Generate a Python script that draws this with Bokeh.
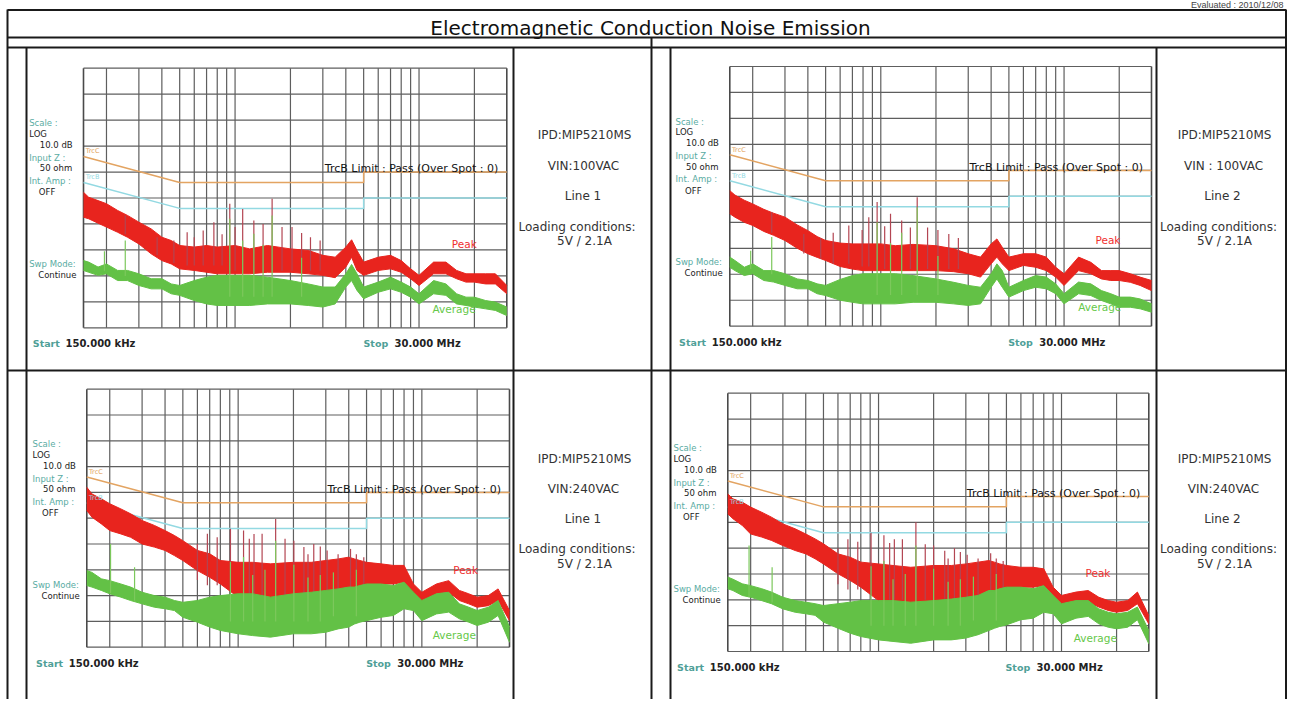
import math
from bokeh.plotting import figure
from bokeh.models import Range1d, LogScale
from bokeh.core.properties import value
from bokeh.embed import file_html
from bokeh.resources import INLINE

# ---------------- data ----------------
FREQ_KHZ = [150, 160, 180, 200, 230, 260, 300, 350, 400, 450, 500, 600, 700, 800, 1000, 1200, 1500,
            2000, 2500, 3000, 3500, 4000, 4300, 4600, 5000, 6000, 7000, 8000, 9000, 10000, 12000,
            14000, 16000, 18000, 20000, 23000, 26000, 30000]
GRID_KHZ = [200, 300, 400, 500, 600, 700, 800, 900, 1000, 2000, 3000, 4000, 5000, 6000, 7000,
            8000, 9000, 10000, 20000]
DB_LEVELS = [0, 10, 20, 30, 40, 50, 60, 70, 80, 90, 100]
LIM_KHZ = [150, 500, 5000, 5000, 30000]
QP_LIMIT_DB = [66, 56, 56, 60, 60]
AV_LIMIT_DB = [56, 46, 46, 50, 50]

# chart 1 : 100VAC Line 1
P1_HI = [52.2, 50.3, 49.0, 47.8, 45.2, 43.3, 40.7, 38.1, 34.9, 33.6, 31.7, 31.1, 31.7, 31.1, 31.7, 30.4, 31.7, 30.4, 29.8, 27.9,
         27.2, 31.1, 33.9, 29.8, 25.3, 27.2, 27.9, 25.9, 22.7, 20.2, 25.3, 25.3, 22.1, 20.8, 20.8, 20.8, 20.8, 16.3]
P1_LO = [42.6, 42.0, 40.3, 38.8, 36.8, 34.9, 32.3, 28.5, 25.9, 24.6, 22.7, 22.1, 21.4, 20.8, 20.8, 20.8, 21.4, 21.4, 20.8, 20.2,
         19.3, 23.4, 27.2, 22.1, 20.2, 22.1, 22.7, 21.4, 18.9, 16.3, 20.8, 20.8, 18.9, 17.6, 17.6, 16.9, 16.9, 13.1]
A1_HI = [25.9, 25.3, 23.4, 24.6, 22.1, 22.1, 20.8, 18.9, 18.9, 16.9, 16.3, 18.2, 19.5, 20.2, 20.2, 20.2, 19.5, 18.2, 16.9, 15.7,
         15.7, 20.8, 24.4, 20.8, 15.7, 17.6, 19.5, 17.6, 15.7, 13.1, 18.2, 16.9, 13.1, 11.8, 11.8, 10.5, 9.9, 8.0]
A1_LO = [22.1, 21.4, 20.2, 20.8, 18.2, 18.2, 16.3, 15.0, 15.0, 13.1, 12.5, 10.5, 9.2, 8.6, 8.6, 8.6, 9.2, 9.2, 8.6, 8.0,
         9.2, 15.7, 18.2, 14.4, 11.2, 13.7, 15.0, 13.7, 11.8, 9.2, 13.1, 12.5, 9.2, 8.6, 8.0, 7.3, 6.7, 4.7]
SP1_KHZ = [253, 377, 465, 549, 600, 671, 767, 850, 936, 1000, 1100, 1265, 1420, 1590, 1800, 2040, 2300, 2570, 2900]
SP1_TOP = [43.3, 34.9, 33.6, 36.8, 34.9, 37.5, 40.7, 36.0, 47.8, 38.8, 45.8, 41.3, 40.0, 49.7, 38.8, 38.8, 36.5, 34.9, 33.6]
SP1_BASE = [36, 28, 25, 24, 24, 24, 24, 24, 22, 22, 22, 22, 22, 22, 22, 22, 22, 22, 22]
SA1_KHZ = [195, 253, 936, 1100, 1265, 1420, 1590, 2300]
SA1_TOP = [29.5, 33.6, 42.0, 33.6, 36.2, 32.0, 43.3, 27.0]
SA1_BASE = [22, 20, 12, 12, 12, 12, 12, 12]

# chart 2 : 100VAC Line 2
P2_HI = [52.2, 50.5, 48.5, 47.1, 45.0, 43.5, 42.0, 39.0, 36.8, 34.5, 33.0, 32.0, 31.7, 31.7, 31.7, 31.0, 31.5, 31.0, 29.8, 27.9,
         26.6, 31.7, 33.6, 30.4, 26.6, 27.9, 27.9, 26.6, 22.7, 20.2, 26.6, 24.6, 21.4, 21.4, 21.4, 20.2, 18.9, 17.6]
P2_LO = [43.3, 42.0, 40.0, 38.8, 36.5, 35.0, 33.0, 30.0, 27.9, 26.5, 25.3, 23.0, 22.0, 21.4, 21.4, 21.4, 21.4, 21.4, 21.0, 20.2,
         18.9, 24.0, 26.6, 24.0, 21.4, 23.4, 22.7, 21.4, 18.9, 15.7, 21.4, 20.2, 18.2, 17.6, 17.6, 16.9, 15.7, 13.7]
A2_HI = [26.6, 25.3, 22.7, 24.0, 21.4, 21.4, 20.2, 18.2, 17.6, 16.3, 15.7, 18.0, 19.5, 20.2, 20.2, 20.2, 19.5, 18.2, 16.9, 15.7,
         15.0, 20.2, 24.0, 21.4, 15.0, 17.6, 19.5, 18.9, 16.3, 12.5, 17.0, 16.3, 13.7, 12.5, 11.2, 11.2, 10.5, 8.6]
A2_LO = [22.7, 21.4, 19.5, 20.2, 17.6, 17.0, 15.7, 14.4, 14.4, 12.5, 11.8, 10.0, 9.2, 8.6, 8.6, 8.6, 9.2, 9.2, 8.6, 8.0,
         8.6, 15.0, 18.2, 15.0, 11.2, 13.7, 15.0, 14.4, 12.5, 8.6, 12.5, 11.8, 9.9, 8.6, 7.3, 7.3, 6.7, 5.4]
SP2_KHZ = [254, 380, 470, 550, 669, 791, 860, 955, 1050, 1130, 1300, 1450, 1580, 1800, 2050, 2350, 2650]
SP2_TOP = [44.0, 35.5, 34.0, 36.0, 38.8, 37.0, 42.0, 47.8, 38.5, 43.3, 40.7, 38.0, 49.7, 38.0, 37.0, 35.5, 34.0]
SP2_BASE = [36, 28, 26, 24, 24, 23, 23, 22, 22, 22, 22, 22, 22, 22, 22, 22, 22]
SA2_KHZ = [195, 254, 955, 1130, 1300, 1580, 2050]
SA2_TOP = [29.1, 34.3, 40.0, 32.0, 36.0, 45.8, 27.0]
SA2_BASE = [22, 20, 12, 12, 12, 12, 12]

# chart 3 : 240VAC Line 1
P3_HI = [62.0, 59.4, 57.5, 55.6, 53.6, 51.7, 49.1, 47.2, 45.2, 43.3, 41.3, 37.5, 36.2, 33.6, 32.9, 32.9, 32.3, 32.9, 32.9, 33.6,
         34.2, 34.9, 34.2, 33.6, 32.9, 32.3, 31.7, 31.7, 24.5, 21.3, 24.5, 25.8, 22.0, 20.7, 19.4, 20.0, 22.6, 14.2]
P3_LO = [53.0, 50.4, 47.8, 45.2, 43.9, 42.6, 40.0, 38.8, 37.5, 35.5, 33.6, 29.7, 27.1, 24.5, 19.4, 18.1, 16.8, 18.1, 18.7, 19.4,
         20.7, 22.0, 23.3, 23.9, 24.5, 24.5, 24.5, 25.2, 19.4, 17.4, 20.7, 21.3, 18.1, 16.8, 15.5, 16.1, 18.1, 10.3]
A3_HI = [29.7, 29.0, 26.5, 25.8, 24.5, 23.3, 21.3, 20.0, 19.4, 18.1, 17.4, 18.1, 19.4, 20.0, 20.7, 20.7, 19.4, 20.7, 21.3, 22.0,
         22.6, 23.3, 23.3, 23.9, 24.5, 24.5, 23.9, 25.2, 21.3, 18.1, 20.7, 21.3, 16.8, 15.5, 14.2, 15.5, 18.1, 7.8]
A3_LO = [23.9, 23.3, 22.0, 20.7, 19.4, 18.1, 16.8, 15.5, 14.9, 14.2, 11.6, 9.7, 7.8, 6.5, 5.2, 4.5, 3.9, 5.2, 5.2, 5.8,
         7.1, 7.8, 9.0, 9.7, 10.3, 11.6, 12.3, 14.9, 14.2, 10.3, 12.9, 13.6, 11.0, 9.7, 8.4, 9.7, 12.3, 1.9]
SP3_KHZ = [600, 680, 769, 908, 1070, 1150, 1220, 1350, 1600, 1800, 2010, 2280, 2400, 2580, 2800, 3050, 3500, 4090, 4400, 4830]
SP3_TOP = [40.0, 44.0, 42.6, 45.9, 45.2, 42.0, 43.9, 44.0, 49.7, 42.0, 41.3, 38.8, 36.0, 40.0, 39.0, 37.5, 36.0, 38.1, 36.0, 34.9]
SP3_BASE = [26, 24, 24, 22, 20, 20, 20, 20, 20, 20, 20, 20, 20, 20, 20, 20, 20, 22, 24, 24]
SA3_KHZ = [202, 273, 908, 1070, 1200, 1400, 1600, 2010, 2400, 2800, 3300, 4400]
SA3_TOP = [40.0, 31.0, 33.0, 35.0, 28.0, 30.0, 41.3, 32.0, 27.0, 28.0, 29.0, 30.0]
SA3_BASE = [21, 18, 10, 10, 10, 10, 10, 10, 10, 10, 12, 12]

# chart 4 : 240VAC Line 2
P4_HI = [61.0, 59.1, 57.8, 55.9, 53.9, 52.0, 49.4, 47.5, 45.5, 43.6, 41.7, 37.8, 36.5, 34.6, 33.9, 33.3, 32.6, 33.3, 33.3, 33.9,
         34.6, 35.2, 34.6, 33.9, 33.3, 32.6, 32.6, 32.0, 24.9, 21.7, 23.0, 23.6, 21.0, 19.7, 19.1, 19.7, 23.0, 13.9]
P4_LO = [53.3, 51.4, 48.8, 45.5, 44.3, 43.0, 41.0, 39.1, 37.8, 35.9, 33.9, 30.1, 27.5, 24.9, 19.7, 18.5, 17.2, 18.5, 19.1, 19.7,
         21.0, 22.3, 23.6, 24.3, 24.9, 24.9, 24.9, 25.5, 19.7, 17.2, 18.5, 19.1, 17.2, 15.9, 15.2, 15.9, 18.5, 10.7]
A4_HI = [28.8, 28.0, 26.2, 25.5, 24.3, 23.0, 21.0, 19.7, 19.1, 18.5, 17.8, 18.5, 19.1, 19.7, 19.7, 19.7, 19.1, 19.7, 20.3, 21.0,
         21.7, 23.6, 23.6, 24.3, 24.9, 24.9, 24.3, 25.5, 21.7, 18.5, 19.7, 19.7, 16.5, 15.2, 14.6, 15.2, 17.2, 8.1]
A4_LO = [24.3, 23.6, 21.7, 21.0, 19.7, 18.5, 16.5, 15.2, 14.6, 14.0, 11.4, 9.0, 7.1, 5.8, 4.5, 3.9, 3.2, 4.5, 4.5, 5.2,
         6.5, 8.1, 9.0, 9.7, 10.3, 12.3, 12.9, 15.2, 14.6, 10.7, 12.9, 13.6, 10.7, 9.4, 8.8, 9.4, 12.3, 3.0]
SP4_KHZ = [600, 680, 770, 910, 1070, 1150, 1220, 1350, 1600, 1800, 2000, 2300, 2400, 2600, 2800, 3050, 3500, 4100, 4400, 4800]
SP4_TOP = [40.0, 43.5, 42.5, 46.0, 45.0, 42.0, 43.5, 43.5, 50.0, 41.5, 41.0, 39.0, 36.0, 40.0, 38.5, 37.5, 36.0, 38.0, 36.0, 35.0]
SP4_BASE = [26, 24, 24, 22, 20, 20, 20, 20, 20, 20, 20, 20, 20, 20, 20, 20, 20, 22, 24, 24]
SA4_KHZ = [196, 262, 910, 1070, 1200, 1400, 1600, 2000, 2400, 2800, 3300, 4400]
SA4_TOP = [41.0, 32.6, 33.0, 35.0, 28.0, 30.0, 41.0, 32.0, 27.0, 28.0, 29.0, 30.0]
SA4_BASE = [21, 19, 10, 10, 10, 10, 10, 10, 10, 10, 12, 12]

TITLE = "Electromagnetic Conduction Noise Emission"
EVALUATED = "Evaluated : 2010/12/08"
PANEL_TL = ["IPD:MIP5210MS", "VIN:100VAC", "Line 1", "Loading conditions:", "5V / 2.1A"]
PANEL_TR = ["IPD:MIP5210MS", "VIN : 100VAC", "Line 2", "Loading conditions:", "5V / 2.1A"]
PANEL_BL = ["IPD:MIP5210MS", "VIN:240VAC", "Line 1", "Loading conditions:", "5V / 2.1A"]
PANEL_BR = ["IPD:MIP5210MS", "VIN:240VAC", "Line 2", "Loading conditions:", "5V / 2.1A"]
TEAL_LABELS = ["Scale :", "Input Z :", "Int. Amp :", "Swp Mode:"]
BLACK_LABELS = ["LOG", "10.0 dB", "50 ohm", "OFF", "Continue"]
LIMIT_TEXT = "TrcB Limit  : Pass (Over Spot  : 0)"

# ---------------- styles / layout ----------------
FW, FH = 1287, 699          # figure size (fits the window with its 8px margin)
X0, X1 = 0, FW              # picture pixels covered by the figure
Y0, Y1 = 0, FH
FONT = value("DejaVu Sans")
RED = "#e8241e"
RED_SPIKE = "#b34552"
GREEN = "#63c146"
GREEN_SPIKE = "#7cc85c"
ORANGE = "#e3a462"
CYAN = "#93d9e2"
TEAL = "#5aaca3"
GRIDC = "#5e5e5e"
LINEC = "#1a1a1a"
F_START, F_STOP = 150e3, 30e6

p = figure(width=FW, height=FH, x_range=Range1d(X0, X1), y_range=Range1d(Y1, Y0),
           output_backend="svg", toolbar_location=None,
           x_axis_location=None, y_axis_location=None, min_border=0)
p.grid.visible = False
p.outline_line_color = None
p.background_fill_color = "white"
p.border_fill_color = "white"

# ---------------- table frame ----------------
RIGHT = 1285.5
hx0 = [7, 7, 7, 7]
hx1 = [RIGHT, RIGHT, RIGHT, RIGHT]
hy = [9.5, 37, 47, 370]
p.segment(x0=hx0, y0=hy, x1=hx1, y1=hy, line_color=LINEC, line_width=2)
vx = [7, RIGHT, 651, 26, 513, 670, 1156]
vy0 = [9, 9, 37, 47, 47, 47, 47]
vy1 = [Y1] * 7
p.segment(x0=vx, y0=vy0, x1=vx, y1=vy1, line_color=LINEC, line_width=2)

p.text(x=[650], y=[27.5], text=[TITLE], text_font=FONT, text_font_size="20px",
       text_color="#111111", text_align="center", text_baseline="middle")
p.text(x=[1283], y=[4], text=[EVALUATED], text_font=value("Liberation Sans"), text_font_size="9px",
       text_color="#444444", text_align="right", text_baseline="middle")


def panel(lines, xs, ys):
    p.text(x=xs, y=ys, text=lines, text_font=FONT, text_font_size="12px",
           text_color="#333333", text_align="center", text_baseline="middle")


panel(PANEL_TL, [584, 583, 582.5, 576.5, 584], [134, 165, 195, 226, 240])
panel(PANEL_TR, [1224, 1223, 1222, 1218, 1224], [134, 165, 195, 226, 240])
panel(PANEL_BL, [584, 583, 582.5, 576.5, 584], [458, 488, 518, 548, 563])
panel(PANEL_BR, [1224, 1223, 1222, 1218, 1224], [458, 488, 518, 548, 563])

xr, yr, xs_ = {}, {}, {}


def chart(name, box, p_hi, p_lo, a_hi, a_lo, sp_f, sp_top, sp_base, sa_f, sa_top, sa_base, peak_xy, avg_xy):
    L, R, T, B = box
    d = math.log10(F_STOP / F_START)
    lo = math.log10(F_START) - (L - X0) / (R - L) * d
    hi = math.log10(F_START) + (X1 - L) / (R - L) * d
    xr[name] = Range1d(10 ** lo, 10 ** hi)
    xs_[name] = LogScale()
    yr[name] = Range1d((B - Y1) * 100 / (B - T), (B - Y0) * 100 / (B - T))
    kw = dict(x_range_name=name, y_range_name=name)

    hz = [f * 1e3 for f in FREQ_KHZ]
    grid = [f * 1e3 for f in GRID_KHZ]
    p.segment(x0=grid, y0=0, x1=grid, y1=100, line_color=GRIDC, line_width=1.2, **kw)
    p.segment(x0=F_START, y0=DB_LEVELS, x1=F_STOP, y1=DB_LEVELS, line_color=GRIDC, line_width=1.2, **kw)
    p.segment(x0=[F_START, F_STOP], y0=0, x1=[F_START, F_STOP], y1=100, line_color="#4a4a4a",
              line_width=1.6, **kw)
    lim = [f * 1e3 for f in LIM_KHZ]
    p.line(lim, QP_LIMIT_DB, line_color=ORANGE, line_width=1.5, **kw)
    p.line(lim, AV_LIMIT_DB, line_color=CYAN, line_width=1.5, **kw)
    # peak trace
    p.varea(x=hz, y1=p_lo, y2=p_hi, fill_color=RED, **kw)
    p.line(hz, p_hi, line_color=RED, line_width=1, **kw)
    p.line(hz, p_lo, line_color=RED, line_width=1, **kw)
    spf = [f * 1e3 for f in sp_f]
    p.segment(x0=spf, y0=sp_base, x1=spf, y1=sp_top, line_color=RED_SPIKE, line_width=1.2, **kw)
    # average trace
    p.varea(x=hz, y1=a_lo, y2=a_hi, fill_color=GREEN, **kw)
    p.line(hz, a_hi, line_color=GREEN, line_width=1, **kw)
    p.line(hz, a_lo, line_color=GREEN, line_width=1, **kw)
    saf = [f * 1e3 for f in sa_f]
    p.segment(x0=saf, y0=sa_base, x1=saf, y1=sa_top, line_color=GREEN_SPIKE, line_width=1.2, **kw)

    # annotation texts (screen layout)
    p.text(x=[L - 54.3] * 4, y=[T + 55, T + 89.6, T + 112.3, T + 195.6], text=TEAL_LABELS,
           text_font=FONT, text_font_size="8.5px", text_color=TEAL, text_baseline="middle")
    p.text(x=[L - 54.3, L - 43.7, L - 43.7, L - 44.7, L - 45.3],
           y=[T + 65.6, T + 76.3, T + 100, T + 124, T + 206.6], text=BLACK_LABELS,
           text_font=FONT, text_font_size="8.5px", text_color="#222222", text_baseline="middle")
    p.text(x=[L - 50.7, R - 143.3], y=[B + 16, B + 16], text=["Start", "Stop"],
           text_font=FONT, text_font_size="9.5px", text_font_style="bold", text_color="#4f9f98",
           text_baseline="middle")
    p.text(x=[L - 18, R - 112.3], y=[B + 16, B + 16], text=["150.000 kHz", "30.000 MHz"],
           text_font=FONT, text_font_size="10px", text_font_style="bold", text_color="#222222",
           text_baseline="middle")
    p.text(x=[L + 2.3], y=[T + 83], text=["TrcC"], text_font=FONT, text_font_size="6.5px",
           text_color=ORANGE, text_baseline="middle")
    p.text(x=[L + 2.3], y=[T + 109], text=["TrcB"], text_font=FONT, text_font_size="6.5px",
           text_color=CYAN, text_baseline="middle")
    p.text(x=[R - 1.5], y=[T + 100.5], text=[LIMIT_TEXT], text_font=FONT, text_font_size="11px",
           text_color="#151515", text_align="right", text_baseline="middle")
    p.text(x=[peak_xy[0]], y=[peak_xy[1]], text=["Peak"], text_font=FONT, text_font_size="10.5px",
           text_color="#f03030", text_baseline="middle")
    p.text(x=[avg_xy[0]], y=[avg_xy[1]], text=["Average"], text_font=FONT, text_font_size="10.5px",
           text_color="#66c84a", text_baseline="middle")


chart("c1", (83, 506.3, 67.7, 327.3), P1_HI, P1_LO, A1_HI, A1_LO, SP1_KHZ, SP1_TOP, SP1_BASE,
      SA1_KHZ, SA1_TOP, SA1_BASE, (451.3, 243.3), (432, 308.3))
chart("c2", (729.3, 1151, 66, 325.7), P2_HI, P2_LO, A2_HI, A2_LO, SP2_KHZ, SP2_TOP, SP2_BASE,
      SA2_KHZ, SA2_TOP, SA2_BASE, (1095, 239), (1077.7, 306.7))
chart("c3", (86.3, 509, 388.7, 646.7), P3_HI, P3_LO, A3_HI, A3_LO, SP3_KHZ, SP3_TOP, SP3_BASE,
      SA3_KHZ, SA3_TOP, SA3_BASE, (452.7, 569), (432.3, 634.3))
chart("c4", (727.3, 1148.3, 392.7, 651), P4_HI, P4_LO, A4_HI, A4_LO, SP4_KHZ, SP4_TOP, SP4_BASE,
      SA4_KHZ, SA4_TOP, SA4_BASE, (1085, 572.3), (1073.3, 637.7))

p.extra_x_ranges = xr
p.extra_x_scales = xs_
p.extra_y_ranges = yr

open("out.html", "w").write(file_html(p, INLINE))
